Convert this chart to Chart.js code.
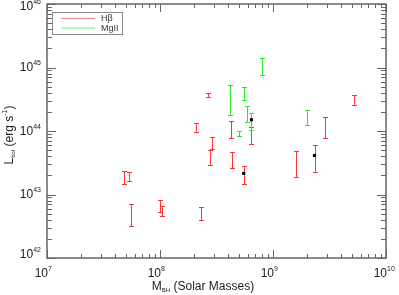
<!DOCTYPE html>
<html>
<head>
<meta charset="utf-8">
<script src="https://cdn.jsdelivr.net/npm/chart.js@4.4.0/dist/chart.umd.min.js"></script>
<style>
  html, body { margin: 0; padding: 0; background: #fff; }
  canvas { display: block; }
</style>
</head>
<body>
<canvas id="myChart" width="399" height="295"></canvas>
<script>
// valores: masa (Msun), luminosidad min/max (erg/s)
const hbMass = [4.80e7, 5.28e7, 5.54e7, 1.00e8, 1.04e8, 2.31e8, 2.10e8, 2.64e8, 2.75e8, 2.90e8, 4.21e8, 4.30e8, 5.51e8, 6.39e8, 1.60e9, 2.33e9, 2.90e9, 5.21e9]
const hbLo = [1.49e43, 1.65e43, 3.16e42, 5.23e42, 4.53e42, 3.92e42, 9.82e43, 3.46e44, 2.94e43, 5.29e43, 7.78e43, 2.59e43, 1.47e43, 6.33e43, 1.89e43, 2.25e43, 7.69e43, 2.61e44]
const hbHi = [2.37e43, 2.26e43, 6.98e42, 8.06e42, 6.49e42, 6.26e42, 1.32e44, 4.00e44, 4.99e43, 7.97e43, 1.42e44, 4.65e43, 2.84e43, 1.17e44, 4.82e43, 5.98e43, 1.67e44, 3.74e44]

const mgMass = [4.19e8, 5.57e8, 5.93e8, 5.03e8, 6.45e8, 8.07e8, 1.99e9]
const mgLo = [1.76e44, 3.13e44, 1.40e44, 8.35e43, 1.03e44, 7.50e44, 1.25e44]
const mgHi = [5.37e44, 4.92e44, 2.52e44, 9.89e43, 1.95e44, 1.40e45, 2.11e44]

// puntos negros
const dotMass = [6.45e8, 5.51e8, 2.33e9]
const dotLum = [1.50e44, 2.15e43, 4.11e43]

// exponentes de las etiquetas
const xTickExp = [7, 8, 9, 10]
const yTickExp = [42, 43, 44, 45, 46]

const FONT = '"Liberation Sans", Arial, sans-serif'
const axisColor = '#666'

// texto con sub/superindices: parts = [[texto, size, dy], ...]
function drawRich(ctx, parts, x, y, align){
    let total = 0
    parts.forEach(p => { ctx.font = p[1] + 'px ' + FONT; total += ctx.measureText(p[0]).width })
    let cx = x
    if (align === 'center') cx = x - total / 2
    if (align === 'right') cx = x - total
    ctx.textAlign = 'left'
    ctx.textBaseline = 'alphabetic'
    parts.forEach(p => {
        ctx.font = p[1] + 'px ' + FONT
        ctx.fillText(p[0], cx, y + p[2])
        cx += ctx.measureText(p[0]).width
    })
}

function toPoints(mass, lo, hi){
    return mass.map((m, i) => ({x: m, y: Math.sqrt(lo[i] * hi[i])}))
}

const errorBars = {
    id: 'errorBars',
    beforeDatasetsDraw(chart){
        const ctx = chart.ctx
        const xs = chart.scales.x, ys = chart.scales.y
        chart.data.datasets.forEach(ds => {
            if (!ds.lo) return
            ctx.save()
            ctx.strokeStyle = ds.borderColor
            ctx.lineWidth = 1
            ds.data.forEach((p, i) => {
                const px = Math.round(xs.getPixelForValue(p.x)) + 0.5
                const y1 = Math.round(ys.getPixelForValue(ds.lo[i])) + 0.5
                const y2 = Math.round(ys.getPixelForValue(ds.hi[i])) + 0.5
                ctx.beginPath()
                ctx.moveTo(px, y1); ctx.lineTo(px, y2)
                ctx.moveTo(px - 2.5, y1); ctx.lineTo(px + 2.5, y1)
                ctx.moveTo(px - 2.5, y2); ctx.lineTo(px + 2.5, y2)
                ctx.stroke()
            })
            ctx.restore()
        })
    }
}

const frame = {
    id: 'frame',
    afterDraw(chart){
        const ctx = chart.ctx
        const a = chart.chartArea
        const xs = chart.scales.x, ys = chart.scales.y
        ctx.save()
        ctx.strokeStyle = axisColor
        ctx.lineWidth = 1.5
        ctx.strokeRect(a.left, a.top, a.right - a.left, a.bottom - a.top)

        // ticks en los cuatro lados
        ctx.lineWidth = 1
        ctx.beginPath()
        for (let e = xTickExp[0]; e <= xTickExp[xTickExp.length - 1]; e++){
            for (let m = 1; m <= 9; m++){
                if (e === xTickExp[xTickExp.length - 1] && m > 1) break
                const px = Math.round(xs.getPixelForValue(m * Math.pow(10, e))) + 0.5
                const len = m === 1 ? 8 : 4
                ctx.moveTo(px, a.bottom); ctx.lineTo(px, a.bottom - len)
                ctx.moveTo(px, a.top); ctx.lineTo(px, a.top + len)
            }
        }
        for (let e = yTickExp[0]; e <= yTickExp[yTickExp.length - 1]; e++){
            for (let m = 1; m <= 9; m++){
                if (e === yTickExp[yTickExp.length - 1] && m > 1) break
                const py = Math.round(ys.getPixelForValue(m * Math.pow(10, e))) + 0.5
                const len = m === 1 ? 9 : 5
                ctx.moveTo(a.left, py); ctx.lineTo(a.left + len, py)
                ctx.moveTo(a.right, py); ctx.lineTo(a.right - len, py)
            }
        }
        ctx.stroke()

        ctx.fillStyle = '#222'
        // etiquetas eje x
        xTickExp.forEach(e => {
            const px = xs.getPixelForValue(Math.pow(10, e))
            ctx.font = '12px ' + FONT
            const w = ctx.measureText('10').width
            drawRich(ctx, [['10', 12, 0], [String(e), 7, -6]], px + 1 - w, 277, 'left')
        })
        // etiquetas eje y
        yTickExp.forEach(e => {
            const py = ys.getPixelForValue(Math.pow(10, e))
            const base = Math.min(Math.max(py + 3.5, 10), 258)
            drawRich(ctx, [['10', 12, 0], [String(e), 7, -6]], 41, base, 'right')
        })

        // titulos
        drawRich(ctx, [['M', 12, 0], ['BH', 6, 2], [' (Solar Masses)', 12, 0]], 203, 290, 'center')
        ctx.save()
        ctx.translate(13, 135)
        ctx.rotate(-Math.PI / 2)
        drawRich(ctx, [['L', 12, 0], ['bol', 6, 2], [' (erg s', 12, 0], ['-1', 7, -6], [')', 12, 0]], 0, 0, 'center')
        ctx.restore()

        // leyenda
        ctx.strokeStyle = '#888'
        ctx.lineWidth = 1
        ctx.strokeRect(52.5, 12.5, 70, 22)
        const items = chart.data.datasets.filter(d => d.lo)
        items.forEach((d, i) => {
            const y = 18.5 + i * 9.5
            ctx.strokeStyle = d.legendColor
            ctx.beginPath(); ctx.moveTo(61, y); ctx.lineTo(95, y); ctx.stroke()
            ctx.fillStyle = '#333'
            drawRich(ctx, [[d.label, 9, 0]], 101, y + 2.5, 'left')
        })
        ctx.restore()
    }
}

new Chart('myChart', {
    type: 'scatter',
    data: {
        datasets: [{
            label: 'H\u03b2',
            data: toPoints(hbMass, hbLo, hbHi),
            lo: hbLo, hi: hbHi,
            borderColor: 'rgb(255,50,50)',
            legendColor: 'rgb(255,130,130)',
            pointRadius: 0
        }, {
            label: 'MgII',
            data: toPoints(mgMass, mgLo, mgHi),
            lo: mgLo, hi: mgHi,
            borderColor: 'rgb(40,230,40)',
            legendColor: 'rgb(130,235,130)',
            pointRadius: 0
        }, {
            label: 'dots',
            data: dotMass.map((m, i) => ({x: m, y: dotLum[i]})),
            backgroundColor: '#000',
            borderColor: '#000',
            pointStyle: 'rect',
            pointRadius: 2.2,
            borderWidth: 0
        }]
    },
    options: {
        responsive: false,
        animation: false,
        devicePixelRatio: 1,
        layout: {padding: {left: 47, right: 13, top: 2, bottom: 37}},
        plugins: {legend: {display: false}, tooltip: {enabled: false}},
        scales: {
            x: {type: 'logarithmic', min: 1e7, max: 1e10, display: false},
            y: {type: 'logarithmic', min: 1e42, max: 1e46, display: false}
        }
    },
    plugins: [errorBars, frame]
})
</script>
</body>
</html>
